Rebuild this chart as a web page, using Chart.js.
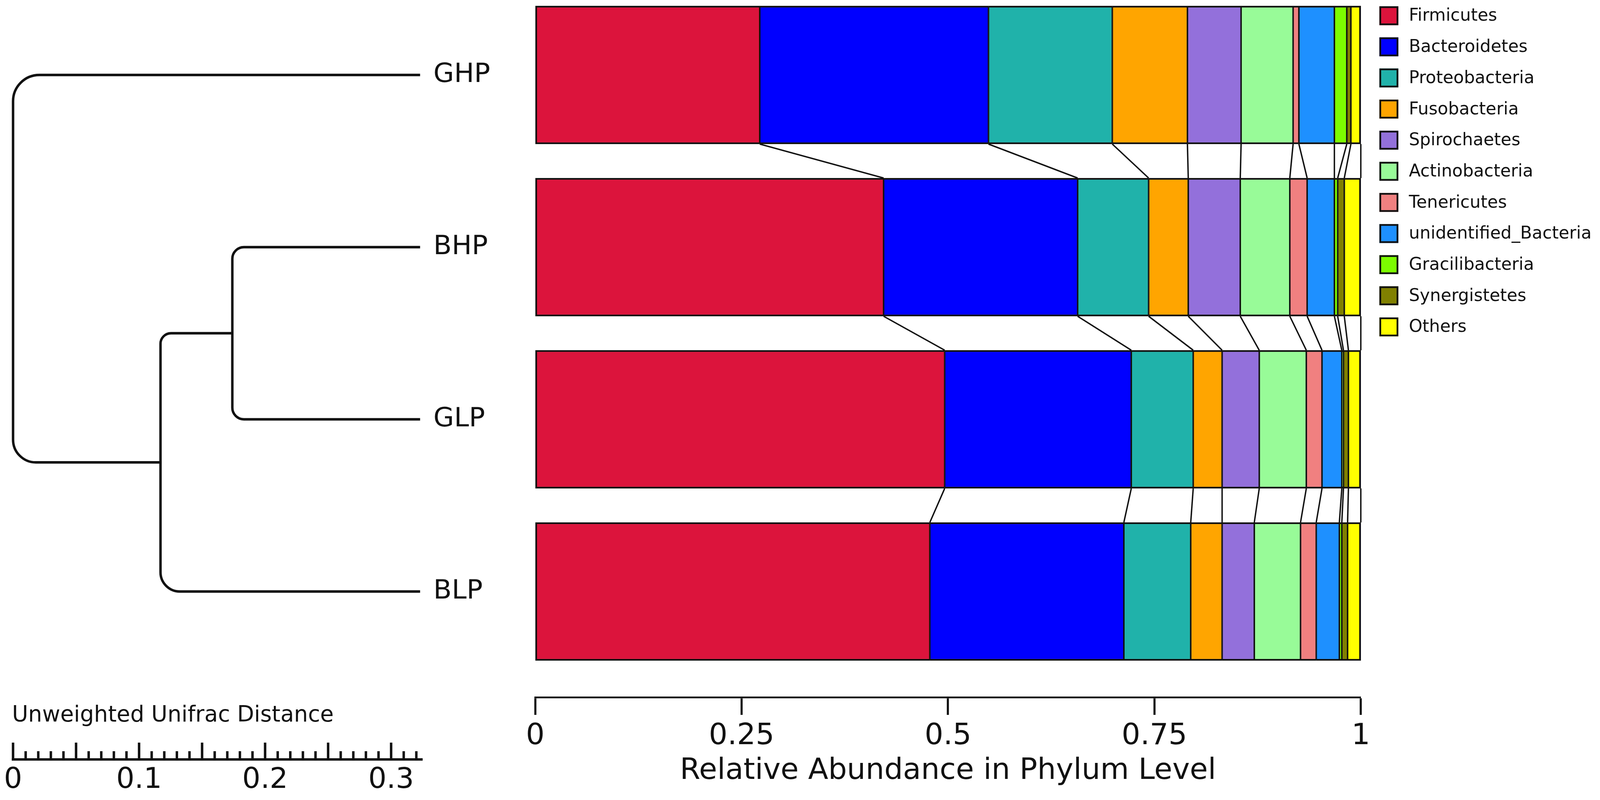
<!DOCTYPE html>
<html>
<head>
<meta charset="utf-8">
<script src="https://cdn.jsdelivr.net/npm/chart.js@4.4.1/dist/chart.umd.min.js"></script>
<style>
  html, body { margin: 0; padding: 0; background: #fff; overflow: hidden; }
  .layer { position: absolute; left: 0; top: 0; width: 100vw; height: 100vh; }
</style>
</head>
<body>
<div class="layer"><canvas id="tree"></canvas></div>
<div class="layer"><canvas id="bars"></canvas></div>
<script>
// samples, top to bottom
const samples = ['GHP', 'BHP', 'GLP', 'BLP'];

const phyla = ['Firmicutes', 'Bacteroidetes', 'Proteobacteria', 'Fusobacteria', 'Spirochaetes',
  'Actinobacteria', 'Tenericutes', 'unidentified_Bacteria', 'Gracilibacteria', 'Synergistetes', 'Others'];
const phylaColors = ['#DC143C', '#0000FF', '#20B2AA', '#FFA500', '#9370DB',
  '#98FB98', '#F08080', '#1E90FF', '#7CFC00', '#808000', '#FFFF00'];

// relative abundance per sample, same order as phyla
const ghp = [0.272, 0.277, 0.150, 0.091, 0.065, 0.063, 0.007, 0.043, 0.015, 0.005, 0.012];
const bhp = [0.422, 0.235, 0.086, 0.048, 0.063, 0.060, 0.021, 0.033, 0.004, 0.008, 0.020];
const glp = [0.496, 0.226, 0.075, 0.035, 0.045, 0.057, 0.019, 0.024, 0.002, 0.006, 0.015];
const blp = [0.478, 0.235, 0.081, 0.038, 0.039, 0.056, 0.019, 0.028, 0.003, 0.007, 0.016];
const abundance = [ghp, bhp, glp, blp];

const barTicks = [0, 0.25, 0.5, 0.75, 1];

// unweighted unifrac tree, distance measured from the root
const leafDistance = 0.323;
const nodeNames = ['n1', 'n2', 'root'];
const nodeDistance = [0.174, 0.117, 0];
const nodeChildren = [['BHP', 'GLP'], ['n1', 'BLP'], ['GHP', 'n2']];

const FONT = "'DejaVu Sans', 'Liberation Sans', sans-serif";
const INK = '#111';

// layout is worked out on a 4562 x 2049 sheet and scaled to the window
const kx = window.innerWidth / 4562;
const ky = window.innerHeight / 2049;
const k = Math.min(kx, ky);
const X = v => v * kx, Y = v => v * ky, S = v => v * k;

// lines joining the segment edges of neighbouring bars
const connectorPlugin = {
  id: 'connectors',
  afterDatasetsDraw(chart) {
    const ctx = chart.ctx;
    ctx.save();
    ctx.strokeStyle = INK;
    ctx.lineWidth = S(4);
    chart.data.datasets.forEach((ds, d) => {
      const bars = chart.getDatasetMeta(d).data;
      for (let i = 0; i < bars.length - 1; i++) {
        const a = bars[i], b = bars[i + 1];
        ctx.beginPath();
        ctx.moveTo(a.x, a.y + a.height / 2);
        ctx.lineTo(b.x, b.y - b.height / 2);
        ctx.stroke();
      }
    });
    ctx.restore();
  }
};

const legendPlugin = {
  id: 'phylumLegend',
  afterDraw(chart, args, opts) {
    const ctx = chart.ctx;
    const area = chart.chartArea;
    const x0 = area.right + opts.offsetX;
    ctx.save();
    ctx.font = opts.fontSize + 'px ' + FONT;
    ctx.textBaseline = 'middle';
    ctx.textAlign = 'left';
    chart.data.datasets.forEach((ds, i) => {
      const top = area.top + opts.offsetY + i * opts.rowStep;
      const lw = S(5);
      ctx.fillStyle = ds.backgroundColor;
      ctx.fillRect(x0, top, opts.box, opts.box);
      ctx.lineWidth = lw;
      ctx.strokeStyle = INK;
      ctx.strokeRect(x0 + lw / 2, top + lw / 2, opts.box - lw, opts.box - lw);
      ctx.fillStyle = INK;
      ctx.fillText(ds.label, x0 + opts.textGap, top + opts.box / 2 + S(2));
    });
    ctx.restore();
  }
};

const datasets = phyla.map((name, p) => ({
  label: name,
  data: abundance.map((row, i) => ({ x: row[p], y: i })),
  backgroundColor: phylaColors[p],
  borderColor: INK,
  borderWidth: { top: S(5), bottom: S(5), left: p === 0 ? S(5) : S(2.5), right: p === phyla.length - 1 ? S(5) : S(2.5) },
  borderSkipped: false,
  barThickness: Y(354),
  stack: 'all',
  clip: false
}));

new Chart(document.getElementById('bars'), {
  type: 'bar',
  data: { datasets: datasets },
  options: {
    indexAxis: 'y',
    responsive: true,
    maintainAspectRatio: false,
    animation: false,
    layout: { padding: { left: X(1526), right: X(682), top: Y(15), bottom: 0 } },
    plugins: {
      legend: { display: false },
      tooltip: { enabled: false },
      phylumLegend: { offsetX: X(53), offsetY: Y(1), rowStep: Y(79.7), box: S(54), textGap: X(84), fontSize: S(49) }
    },
    scales: {
      x: {
        type: 'linear', min: 0, max: 1, stacked: true,
        afterBuildTicks: s => { s.ticks = barTicks.map(v => ({ value: v })); },
        afterFit: s => { s.height = Y(263); },
        ticks: { font: { family: FONT, size: S(84) }, color: INK, padding: Y(10), maxRotation: 0, autoSkip: false,
          callback: v => String(v) },
        grid: { drawOnChartArea: false, drawTicks: true, tickLength: Y(45), tickWidth: S(6), tickColor: INK },
        border: { display: true, width: S(5), color: INK },
        title: { display: true, text: 'Relative Abundance in Phylum Level', color: INK,
          font: { family: FONT, size: S(84) }, padding: { top: 0, bottom: Y(28) } }
      },
      y: { type: 'linear', reverse: true, offset: false, grid: { offset: false },
        min: -0.4014, max: 3.6145, display: false,
        ticks: { stepSize: 1, includeBounds: false } }
    }
  },
  plugins: [connectorPlugin, legendPlugin]
});

// dendrogram drawn on the distance scale
const treePlugin = {
  id: 'dendrogram',
  afterDraw(chart, args, opts) {
    const ctx = chart.ctx;
    const xs = chart.scales.x, ys = chart.scales.y;
    const area = chart.chartArea;
    const nodes = {};
    samples.forEach((s, i) => { nodes[s] = { d: leafDistance, y: i }; });
    nodeNames.forEach((name, n) => {
      const kids = nodeChildren[n].map(c => nodes[c]);
      nodes[name] = { d: nodeDistance[n], y: (kids[0].y + kids[1].y) / 2 };
    });

    ctx.save();
    ctx.strokeStyle = INK;
    ctx.lineWidth = opts.lineWidth;
    nodeNames.forEach((name, n) => {
      const [a, b] = nodeChildren[n].map(c => nodes[c]);
      const px = xs.getPixelForValue(nodes[name].d);
      const ax = xs.getPixelForValue(a.d), ay = ys.getPixelForValue(a.y);
      const bx = xs.getPixelForValue(b.d), by = ys.getPixelForValue(b.y);
      const [r1, r2] = opts.radius[n];
      ctx.beginPath();
      ctx.moveTo(ax, ay);
      ctx.arcTo(px, ay, px, by, S(r1));
      ctx.arcTo(px, by, bx, by, S(r2));
      ctx.lineTo(bx, by);
      ctx.stroke();
    });

    // scale bar ticks, pointing up from the axis line
    ctx.lineWidth = S(7);
    xs.ticks.forEach(t => {
      const c = Math.round(t.value * 100);
      const px = xs.getPixelForValue(t.value);
      const len = c % 5 === 0 ? opts.majorTick : opts.minorTick;
      ctx.beginPath();
      ctx.moveTo(px, area.bottom);
      ctx.lineTo(px, area.bottom - len);
      ctx.stroke();
    });

    ctx.fillStyle = INK;
    ctx.textBaseline = 'middle';
    ctx.textAlign = 'left';
    ctx.font = opts.labelSize + 'px ' + FONT;
    samples.forEach(s => {
      ctx.fillText(s, xs.getPixelForValue(leafDistance) + opts.labelGap, ys.getPixelForValue(nodes[s].y));
    });
    ctx.font = opts.titleSize + 'px ' + FONT;
    ctx.fillText('Unweighted Unifrac Distance', area.left - X(3), area.bottom - opts.titleRise);
    ctx.restore();
  }
};

new Chart(document.getElementById('tree'), {
  type: 'scatter',
  data: { datasets: [] },
  options: {
    responsive: true,
    maintainAspectRatio: false,
    animation: false,
    layout: { padding: { left: X(32), right: X(3357), top: Y(15), bottom: 0 } },
    plugins: {
      legend: { display: false },
      tooltip: { enabled: false },
      dendrogram: { lineWidth: S(7), radius: [[33, 33], [30, 55], [75, 65]], labelGap: X(38), labelSize: S(76),
        titleSize: S(63), titleRise: Y(112), majorTick: Y(43), minorTick: Y(21) }
    },
    scales: {
      x: {
        type: 'linear', min: 0, max: 0.325,
        afterFit: s => { s.height = Y(104); },
        ticks: { stepSize: 0.01, includeBounds: false, autoSkip: false, maxRotation: 0, padding: Y(10),
          font: { family: FONT, size: S(82) }, color: INK,
          callback: v => { const c = Math.round(v * 100); return c % 10 === 0 ? String(c / 100) : ''; } },
        grid: { drawOnChartArea: false, drawTicks: false },
        border: { display: true, width: S(7), color: INK }
      },
      y: { type: 'linear', reverse: true, offset: false, min: -0.4014, max: 3.9751, display: false }
    }
  },
  plugins: [treePlugin]
});
</script>
</body>
</html>
